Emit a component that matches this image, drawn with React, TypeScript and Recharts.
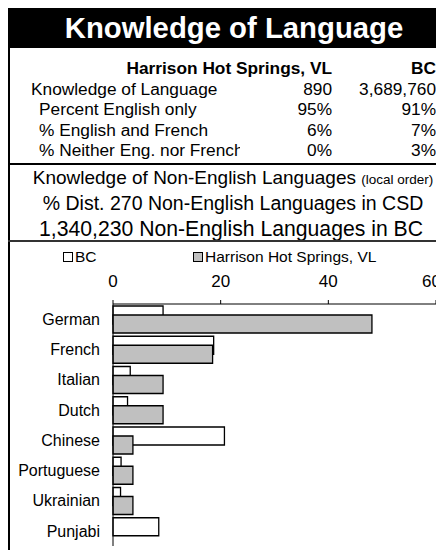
import { BarChart, Bar, XAxis, YAxis, Legend } from 'recharts';

const FONT = '"Liberation Sans", Arial, sans-serif';

const tableLabels = ['Knowledge of Language', 'Percent English only', '% English and French', '% Neither Eng. nor French'];
const localValues = ['890', '95%', '6%', '0%'];
const bcValues = ['3,689,760', '91%', '7%', '3%'];

const languages = ['German', 'French', 'Italian', 'Dutch', 'Chinese', 'Portuguese', 'Ukrainian', 'Punjabi'];
const bcShare = [9.3, 18.7, 3.2, 2.7, 20.7, 1.5, 1.4, 8.5];
const localShare = [48.1, 18.5, 9.3, 9.3, 3.7, 3.7, 3.7, 0];
const xTicks = [0, 20, 40, 60];

const data = languages.map((name, i) => ({ name, bc: bcShare[i], local: localShare[i] }));

function ChartLegend() {
  const box = (fill: string) => (
    <span
      style={{
        display: 'inline-block',
        width: 8,
        height: 8,
        border: '1px solid #000',
        background: fill,
        marginRight: 2,
        verticalAlign: 'middle',
        position: 'relative',
        top: -1,
      }}
    />
  );
  return (
    <div style={{ height: 30, lineHeight: '30px', fontSize: 15.5, fontFamily: FONT, color: '#000', whiteSpace: 'nowrap' }}>
      <span style={{ position: 'absolute', left: 53 }}>
        {box('#fff')}BC
      </span>
      <span style={{ position: 'absolute', left: 183 }}>
        {box('#c0c0c0')}Harrison Hot Springs, VL
      </span>
    </div>
  );
}

// last label is pulled in so it stays inside the visible width
function TopTick(props: any) {
  const { x, y, payload } = props;
  const atEdge = x + 10 > 430;
  return (
    <text x={atEdge ? 431 : x} y={y} textAnchor={atEdge ? 'end' : 'middle'} fill="#000" fontSize={17} fontFamily={FONT}>
      {payload.value}
    </text>
  );
}

export default function App() {
  const rowTop = [61, 81.5, 102, 122.5, 143];
  const cell = { position: 'absolute' as const, fontSize: 17.3, lineHeight: '20px', whiteSpace: 'nowrap' as const };
  return (
    <div style={{ position: 'relative', width: 436, height: 543, marginTop: -1, fontFamily: FONT, color: '#000' }}>
      <style>{'html,body{overflow:hidden}'}</style>
      {/* title bar */}
      <div style={{ position: 'absolute', left: 0, top: 0, width: 460, height: 41, background: '#000' }}>
        <div style={{ width: 452, textAlign: 'center', color: '#fff', fontWeight: 'bold', fontSize: 29.3, lineHeight: '41px' }}>
          Knowledge of Language
        </div>
      </div>
      {/* left border */}
      <div style={{ position: 'absolute', left: 0, top: 41, width: 2, height: 502, background: '#000' }} />

      {/* summary table */}
      <div style={{ ...cell, left: 0, top: 51, width: 324, textAlign: 'right', fontWeight: 'bold' }}>Harrison Hot Springs, VL</div>
      <div style={{ ...cell, left: 340, top: 51, width: 88, textAlign: 'right', fontWeight: 'bold' }}>BC</div>
      {tableLabels.map((label, i) => (
        <div key={label}>
          <div style={{ ...cell, left: i === 0 ? 23 : 31, top: rowTop[i + 1] - 10, width: i === 3 ? 201 : 260, overflow: 'hidden' }}>
            {label}
          </div>
          <div style={{ ...cell, left: 260, top: rowTop[i + 1] - 10, width: 64, textAlign: 'right' }}>{localValues[i]}</div>
          <div style={{ ...cell, left: 330, top: rowTop[i + 1] - 10, width: 98, textAlign: 'right' }}>{bcValues[i]}</div>
        </div>
      ))}
      <div style={{ position: 'absolute', left: 0, top: 156, width: 450, height: 2, background: '#000' }} />

      {/* subtitle block */}
      <div style={{ position: 'absolute', left: 0, top: 158, width: 450, textAlign: 'center', whiteSpace: 'nowrap' }}>
        <div style={{ height: 25, lineHeight: '25px', fontSize: 19 }}>
          Knowledge of Non-English Languages <span style={{ fontSize: 13.5 }}>(local order)</span>
        </div>
        <div style={{ height: 26, lineHeight: '26px', fontSize: 19.5 }}>% Dist. 270 Non-English Languages in CSD</div>
        <div style={{ height: 25, lineHeight: '25px', fontSize: 21.2, paddingRight: 4 }}>1,340,230 Non-English Languages in BC</div>
      </div>
      <div style={{ position: 'absolute', left: 0, top: 233, width: 450, height: 1.5, background: '#333' }} />

      {/* chart */}
      <div style={{ position: 'absolute', left: 2, top: 235 }}>
        <BarChart
          width={460}
          height={304}
          data={data}
          layout="vertical"
          margin={{ top: 0, right: 34, bottom: 0, left: 0 }}
          barSize={18}
          barGap={-9}
          barCategoryGap={0}
        >
          <Legend verticalAlign="top" align="left" height={30} content={() => <ChartLegend />} />
          <XAxis
            type="number"
            orientation="top"
            domain={[0, 60]}
            ticks={xTicks}
            interval={0}
            height={32}
            tickSize={4}
            tickMargin={13}
            axisLine={{ stroke: '#000' }}
            tickLine={{ stroke: '#000' }}
            tick={<TopTick />}
          />
          <YAxis
            type="category"
            dataKey="name"
            width={103}
            tickLine={false}
            tickSize={0}
            tickMargin={13}
            axisLine={{ stroke: '#000' }}
            tick={{ fill: '#000', fontSize: 16, fontFamily: FONT }}
          />
          <Bar dataKey="bc" name="BC" fill="#ffffff" stroke="#000" strokeWidth={1.3} isAnimationActive={false} />
          <Bar dataKey="local" name="Harrison Hot Springs, VL" fill="#c0c0c0" stroke="#000" strokeWidth={1.3} isAnimationActive={false} />
        </BarChart>
      </div>
    </div>
  );
}
